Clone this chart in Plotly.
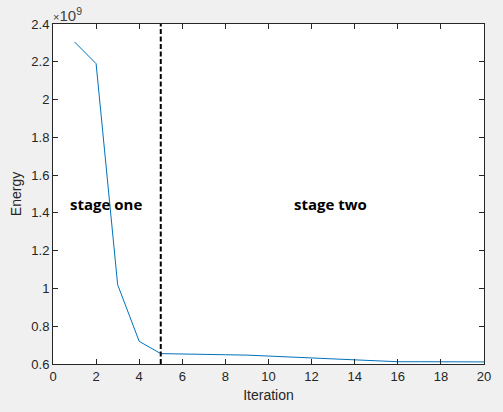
import plotly.graph_objects as go

iterations = list(range(1, 21))
energy_e9 = [2.305, 2.19, 1.02, 0.72, 0.655, 0.652, 0.651, 0.649, 0.647, 0.642,
             0.638, 0.634, 0.628, 0.622, 0.617, 0.612, 0.612, 0.612, 0.611, 0.611]
energy = [v * 1e9 for v in energy_e9]
stage_boundary = 5
x_ticks = list(range(0, 21, 2))
y_tick_vals = [0.6, 0.8, 1.0, 1.2, 1.4, 1.6, 1.8, 2.0, 2.2, 2.4]
y_tick_text = ["0.6", "0.8", "1", "1.2", "1.4", "1.6", "1.8", "2", "2.2", "2.4"]
stage_labels = ["stage one", "stage two"]
stage_label_x = [2.48, 12.87]
stage_label_y = 1.447e9

font_main = "Liberation Sans, Arial, sans-serif"
axis_color = "#262626"

fig = go.Figure()
fig.add_trace(go.Scatter(x=iterations, y=energy, mode="lines",
                         line=dict(color="#0072BD", width=1), showlegend=False))
fig.add_shape(type="line", x0=stage_boundary, x1=stage_boundary, y0=0, y1=1,
              xref="x", yref="paper", line=dict(color="black", width=2, dash="5px,2.5px"))
for t, xv in zip(stage_labels, stage_label_x):
    fig.add_annotation(x=xv, y=stage_label_y, text="<b>" + t + "</b>", showarrow=False,
                       font=dict(family="Open Sans, DejaVu Sans, sans-serif", size=15, color="black"))
fig.add_annotation(x=0, y=1, xref="paper", yref="paper", xanchor="left", yanchor="bottom",
                   text="<span style='font-size:11px'>×</span>10<sup>9</sup>", showarrow=False,
                   xshift=-2, yshift=-2,
                   font=dict(family=font_main, size=15, color="#404040"))

fig.update_layout(
    width=503, height=412,
    margin=dict(l=53, r=15, t=24, b=46),
    paper_bgcolor="#f0f0f0", plot_bgcolor="white",
    font=dict(family=font_main, size=13, color=axis_color),
)
fig.update_xaxes(range=[0, 20], tickvals=x_ticks, ticks="inside", ticklen=5, tickcolor=axis_color,
                 showline=True, linecolor=axis_color, linewidth=1, mirror="ticks",
                 showgrid=False, zeroline=False,
                 title=dict(text="Iteration", font=dict(size=14), standoff=7))
fig.update_yaxes(range=[0.6e9, 2.4e9], tickvals=[v * 1e9 for v in y_tick_vals], ticktext=y_tick_text,
                 ticks="inside", ticklen=5, tickcolor=axis_color,
                 showline=True, linecolor=axis_color, linewidth=1, mirror="ticks",
                 showgrid=False, zeroline=False,
                 title=dict(text="Energy", font=dict(size=14), standoff=6))

fig.write_html("out.html", config={"displayModeBar": False},
               post_script="document.body.style.margin='0';document.body.style.background='#f0f0f0';")
